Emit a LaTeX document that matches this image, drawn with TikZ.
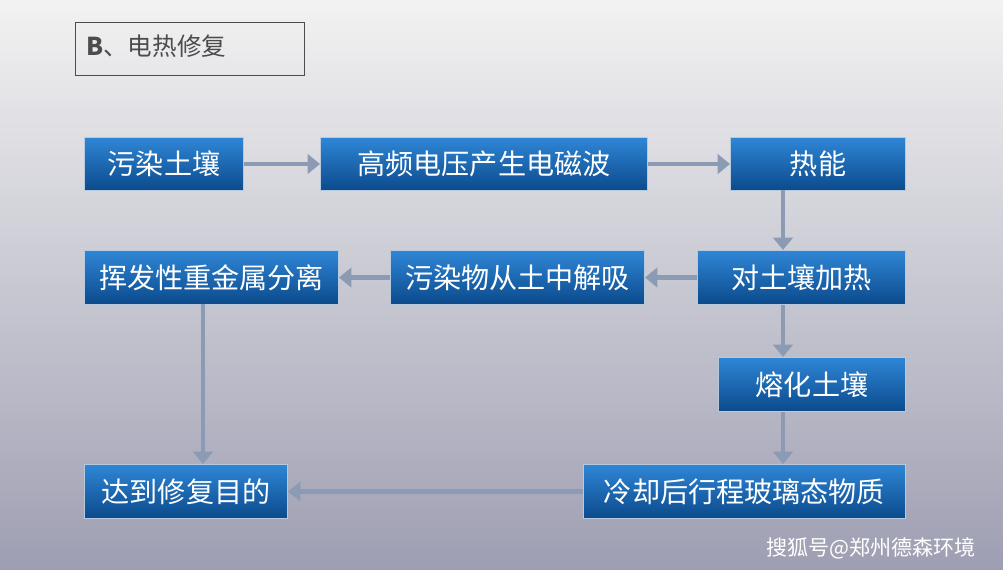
\documentclass[tikz,border=0pt]{standalone}
\usepackage{fontspec}
\setmainfont{Noto Sans CJK SC}
\usetikzlibrary{arrows.meta,positioning,shadows}
\definecolor{bluetop}{HTML}{2F86D6}
\definecolor{bluebot}{HTML}{0B4A8C}
\definecolor{arrowgray}{HTML}{8A9BB3}
\tikzset{
  stage/.style={draw=white!70!bluebot,line width=0.6pt,top color=bluetop,bottom color=bluebot,
    text=white,font=\fontsize{16}{18}\selectfont,inner sep=0pt,anchor=north west},
  flow/.style={draw=arrowgray,line width=2.6pt,-{Triangle[length=7pt,width=11pt]},shorten >=0pt}
}
\begin{document}
\begin{tikzpicture}[x=0.02cm,y=-0.02cm]
\useasboundingbox (0,0) rectangle (1003,570);
\shade[top color=white!90!gray,bottom color=white!80!blue!40!gray] (0,0) rectangle (1003,570);

\node[draw=black!70,line width=0.6pt,anchor=north west,minimum width=4.58cm,minimum height=1.06cm,inner sep=0pt] (title) at (75,22) {};
\node[anchor=west,text=black!70,font=\fontsize{14}{16}\selectfont] (titletxt) at (80,46) {\textbf{B}、电热修复};

\node[stage,minimum width=3.18cm,minimum height=1.06cm] (soil) at (84,137) {污染土壤};
\node[stage,minimum width=6.54cm,minimum height=1.06cm] (wave) at (320,137) {高频电压产生电磁波};
\node[stage,minimum width=3.5cm,minimum height=1.06cm] (heat) at (730,137) {热能};
\node[stage,minimum width=5.08cm,minimum height=1.08cm] (metal) at (84,250) {挥发性重金属分离};
\node[stage,minimum width=5.08cm,minimum height=1.08cm] (desorb) at (390,250) {污染物从土中解吸};
\node[stage,minimum width=4.16cm,minimum height=1.08cm] (warm) at (697,250) {对土壤加热};
\node[stage,minimum width=3.74cm,minimum height=1.08cm] (melt) at (718,357) {熔化土壤};
\node[stage,minimum width=4.06cm,minimum height=1.08cm] (goal) at (84,464) {达到修复目的};
\node[stage,minimum width=6.44cm,minimum height=1.08cm] (glass) at (583,464) {冷却后行程玻璃态物质};

\draw[flow] (soil) -- (wave);
\draw[flow] (wave) -- (heat);
\coordinate (h1) at (783,190);
\coordinate (m1) at (203,304);
\draw[flow] (h1) -- (h1 |- warm.north);
\draw[flow] (warm) -- (desorb);
\draw[flow] (desorb) -- (metal);
\draw[flow] (m1) -- (m1 |- goal.north);
\draw[flow] (h1 |- warm.south) -- (h1 |- melt.north);
\draw[flow] (h1 |- melt.south) -- (h1 |- glass.north);
\draw[flow] (glass) -- (goal);

\node[anchor=east,text=white,font=\fontsize{12}{14}\selectfont] (mark) at (982,548) {搜狐号@郑州德森环境};
\end{tikzpicture}
\end{document}
